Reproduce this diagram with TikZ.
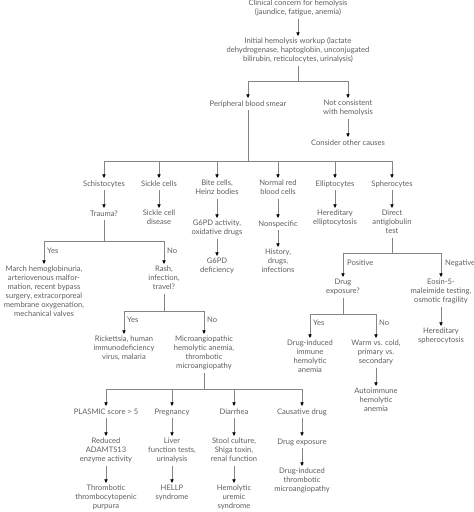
\documentclass[tikz,border=0pt]{standalone}
\usepackage{fontspec}
\setmainfont{Lato}
\usetikzlibrary{arrows.meta}
\definecolor{txt}{HTML}{606060}
\definecolor{lnc}{HTML}{858585}
\begin{document}
\begin{tikzpicture}[x=1pt,y=-1pt,
  box/.style={anchor=north,align=center,inner xsep=1pt,inner ysep=1.5pt,
    font=\fontsize{7.6}{9}\selectfont,text=txt,
    execute at begin node=\strut,execute at end node=\strut},
  lbl/.style={anchor=west,inner sep=0pt,font=\fontsize{7.6}{9}\selectfont,text=txt},
  ln/.style={draw=lnc,line width=0.6pt},
  arr/.style={ln,-{Triangle[width=3.2pt,length=3.6pt,color=black]}}]
\useasboundingbox (0,0) rectangle (474,512);
\fill[white] (0,0) rectangle (474,512);
% top
\node[box] (c1) at (298,-2) {Clinical concern for hemolysis\\(jaundice, fatigue, anemia)};
\node[box] (init) at (298,36) {Initial hemolysis workup (lactate\\dehydrogenase, haptoglobin, unconjugated\\bilirubin, reticulocytes, urinalysis)};
\node[box] (smear) at (248,98) {Peripheral blood smear};
\node[box] (notc) at (348,98) {Not consistent\\with hemolysis};
\node[box] (other) at (348,137) {Consider other causes};
\coordinate (b1) at (298,81);
\draw[arr] (c1.south) -- (init.north);
\draw[ln] (init.south) -- (b1);
\draw[arr] (b1) -| (smear.north);
\draw[arr] (b1) -| (notc.north);
\draw[arr] (notc.south) -- (other.north);
% smear row
\node[box] (schis) at (104,178) {Schistocytes};
\node[box] (sickle) at (159,178) {Sickle cells};
\node[box] (bite) at (217,178) {Bite cells,\\Heinz bodies};
\node[box] (normal) at (278,178) {Normal red\\blood cells};
\node[box] (ellip) at (335,178) {Elliptocytes};
\node[box] (sphero) at (392,178) {Spherocytes};
\coordinate (b2) at (248,161);
\draw[ln] (smear.south) -- (b2);
\foreach \n in {schis,sickle,bite,normal,ellip,sphero} \draw[arr] (b2) -| (\n.north);
% second row
\node[box] (trauma) at (104,208) {Trauma?};
\node[box] (scd) at (159,208) {Sickle cell\\disease};
\node[box] (g6pd) at (217,218) {G6PD activity,\\oxidative drugs};
\node[box] (nonspec) at (278,218) {Nonspecific};
\node[box] (heell) at (335,208) {Hereditary\\elliptocytosis};
\node[box] (dat) at (392,208) {Direct\\antiglobulin\\test};
\draw[arr] (schis.south) -- (trauma.north);
\draw[arr] (sickle.south) -- (scd.north);
\draw[arr] (bite.south) -- (g6pd.north);
\draw[arr] (normal.south) -- (nonspec.north);
\draw[arr] (ellip.south) -- (heell.north);
\draw[arr] (sphero.south) -- (dat.north);
\node[box] (g6pdd) at (217,256) {G6PD\\deficiency};
\node[box] (hist) at (278,247) {History,\\drugs,\\infections};
\draw[arr] (g6pd.south) -- (g6pdd.north);
\draw[arr] (nonspec.south) -- (hist.north);
% trauma branch
\node[box] (march) at (44,264) {March hemoglobinuria,\\arteriovenous malfor-\\mation, recent bypass\\surgery, extracorporeal\\membrane oxygenation,\\mechanical valves};
\node[box] (rash) at (164,264) {Rash,\\infection,\\travel?};
\coordinate (b3) at (104,241);
\draw[ln] (trauma.south) -- (b3);
\draw[arr] (b3) -| (march.north);
\draw[arr] (b3) -| (rash.north);
\node[lbl] (y1) at (47,251) {Yes};
\node[lbl] (n1) at (167,251) {No};
% rash branch
\node[box] (rick) at (124,334) {Rickettsia, human\\immunodeficiency\\virus, malaria};
\node[box] (micro) at (204,334) {Microangiopathic\\hemolytic anemia,\\thrombotic\\microangiopathy};
\coordinate (b4) at (164,311);
\draw[ln] (rash.south) -- (b4);
\draw[arr] (b4) -| (rick.north);
\draw[arr] (b4) -| (micro.north);
\node[lbl] (y2) at (127,320) {Yes};
\node[lbl] (n2) at (207,320) {No};
% micro branch
\node[box] (plasmic) at (106,406) {PLASMIC score > 5};
\node[box] (preg) at (172,406) {Pregnancy};
\node[box] (diarr) at (234,406) {Diarrhea};
\node[box] (caus) at (302,406) {Causative drug};
\coordinate (b5) at (204,389);
\draw[ln] (micro.south) -- (b5);
\foreach \n in {plasmic,preg,diarr,caus} \draw[arr] (b5) -| (\n.north);
\node[box] (reduced) at (106,436) {Reduced\\ADAMTS13\\enzyme activity};
\node[box] (liver) at (172,436) {Liver\\function tests,\\urinalysis};
\node[box] (stool) at (234,436) {Stool culture,\\Shiga toxin,\\renal function};
\node[box] (dexp) at (302,436) {Drug exposure};
\draw[arr] (plasmic.south) -- (reduced.north);
\draw[arr] (preg.south) -- (liver.north);
\draw[arr] (diarr.south) -- (stool.north);
\draw[arr] (caus.south) -- (dexp.north);
\node[box] (ttp) at (106,483) {Thrombotic\\thrombocytopenic\\purpura};
\node[box] (hellp) at (172,483) {HELLP\\syndrome};
\node[box] (hus) at (234,483) {Hemolytic\\uremic\\syndrome};
\node[box] (ditma) at (302,466) {Drug-induced\\thrombotic\\microangiopathy};
\draw[arr] (reduced.south) -- (ttp.north);
\draw[arr] (liver.south) -- (hellp.north);
\draw[arr] (stool.south) -- (hus.north);
\draw[arr] (dexp.south) -- (ditma.north);
% DAT branch
\node[box] (drugq) at (343,277) {Drug\\exposure?};
\node[box] (eosin) at (441,277) {Eosin-5-\\maleimide testing,\\osmotic fragility};
\coordinate (b6) at (392,253);
\draw[ln] (dat.south) -- (b6);
\draw[arr] (b6) -| (drugq.north);
\draw[arr] (b6) -| (eosin.north);
\node[lbl] (pos) at (347,263) {Positive};
\node[lbl] (neg) at (445,263) {Negative};
\node[box] (hs) at (441,326) {Hereditary\\spherocytosis};
\draw[arr] (eosin.south) -- (hs.north);
\node[box] (dihemo) at (310,338) {Drug-induced\\immune\\hemolytic\\anemia};
\node[box] (warm) at (376,338) {Warm vs. cold,\\primary vs.\\secondary};
\coordinate (b7) at (343,314);
\draw[ln] (drugq.south) -- (b7);
\draw[arr] (b7) -| (dihemo.north);
\draw[arr] (b7) -| (warm.north);
\node[lbl] (y3) at (313,323) {Yes};
\node[lbl] (n3) at (379,323) {No};
\node[box] (aiha) at (376,386) {Autoimmune\\hemolytic\\anemia};
\draw[arr] (warm.south) -- (aiha.north);
\end{tikzpicture}
\end{document}
